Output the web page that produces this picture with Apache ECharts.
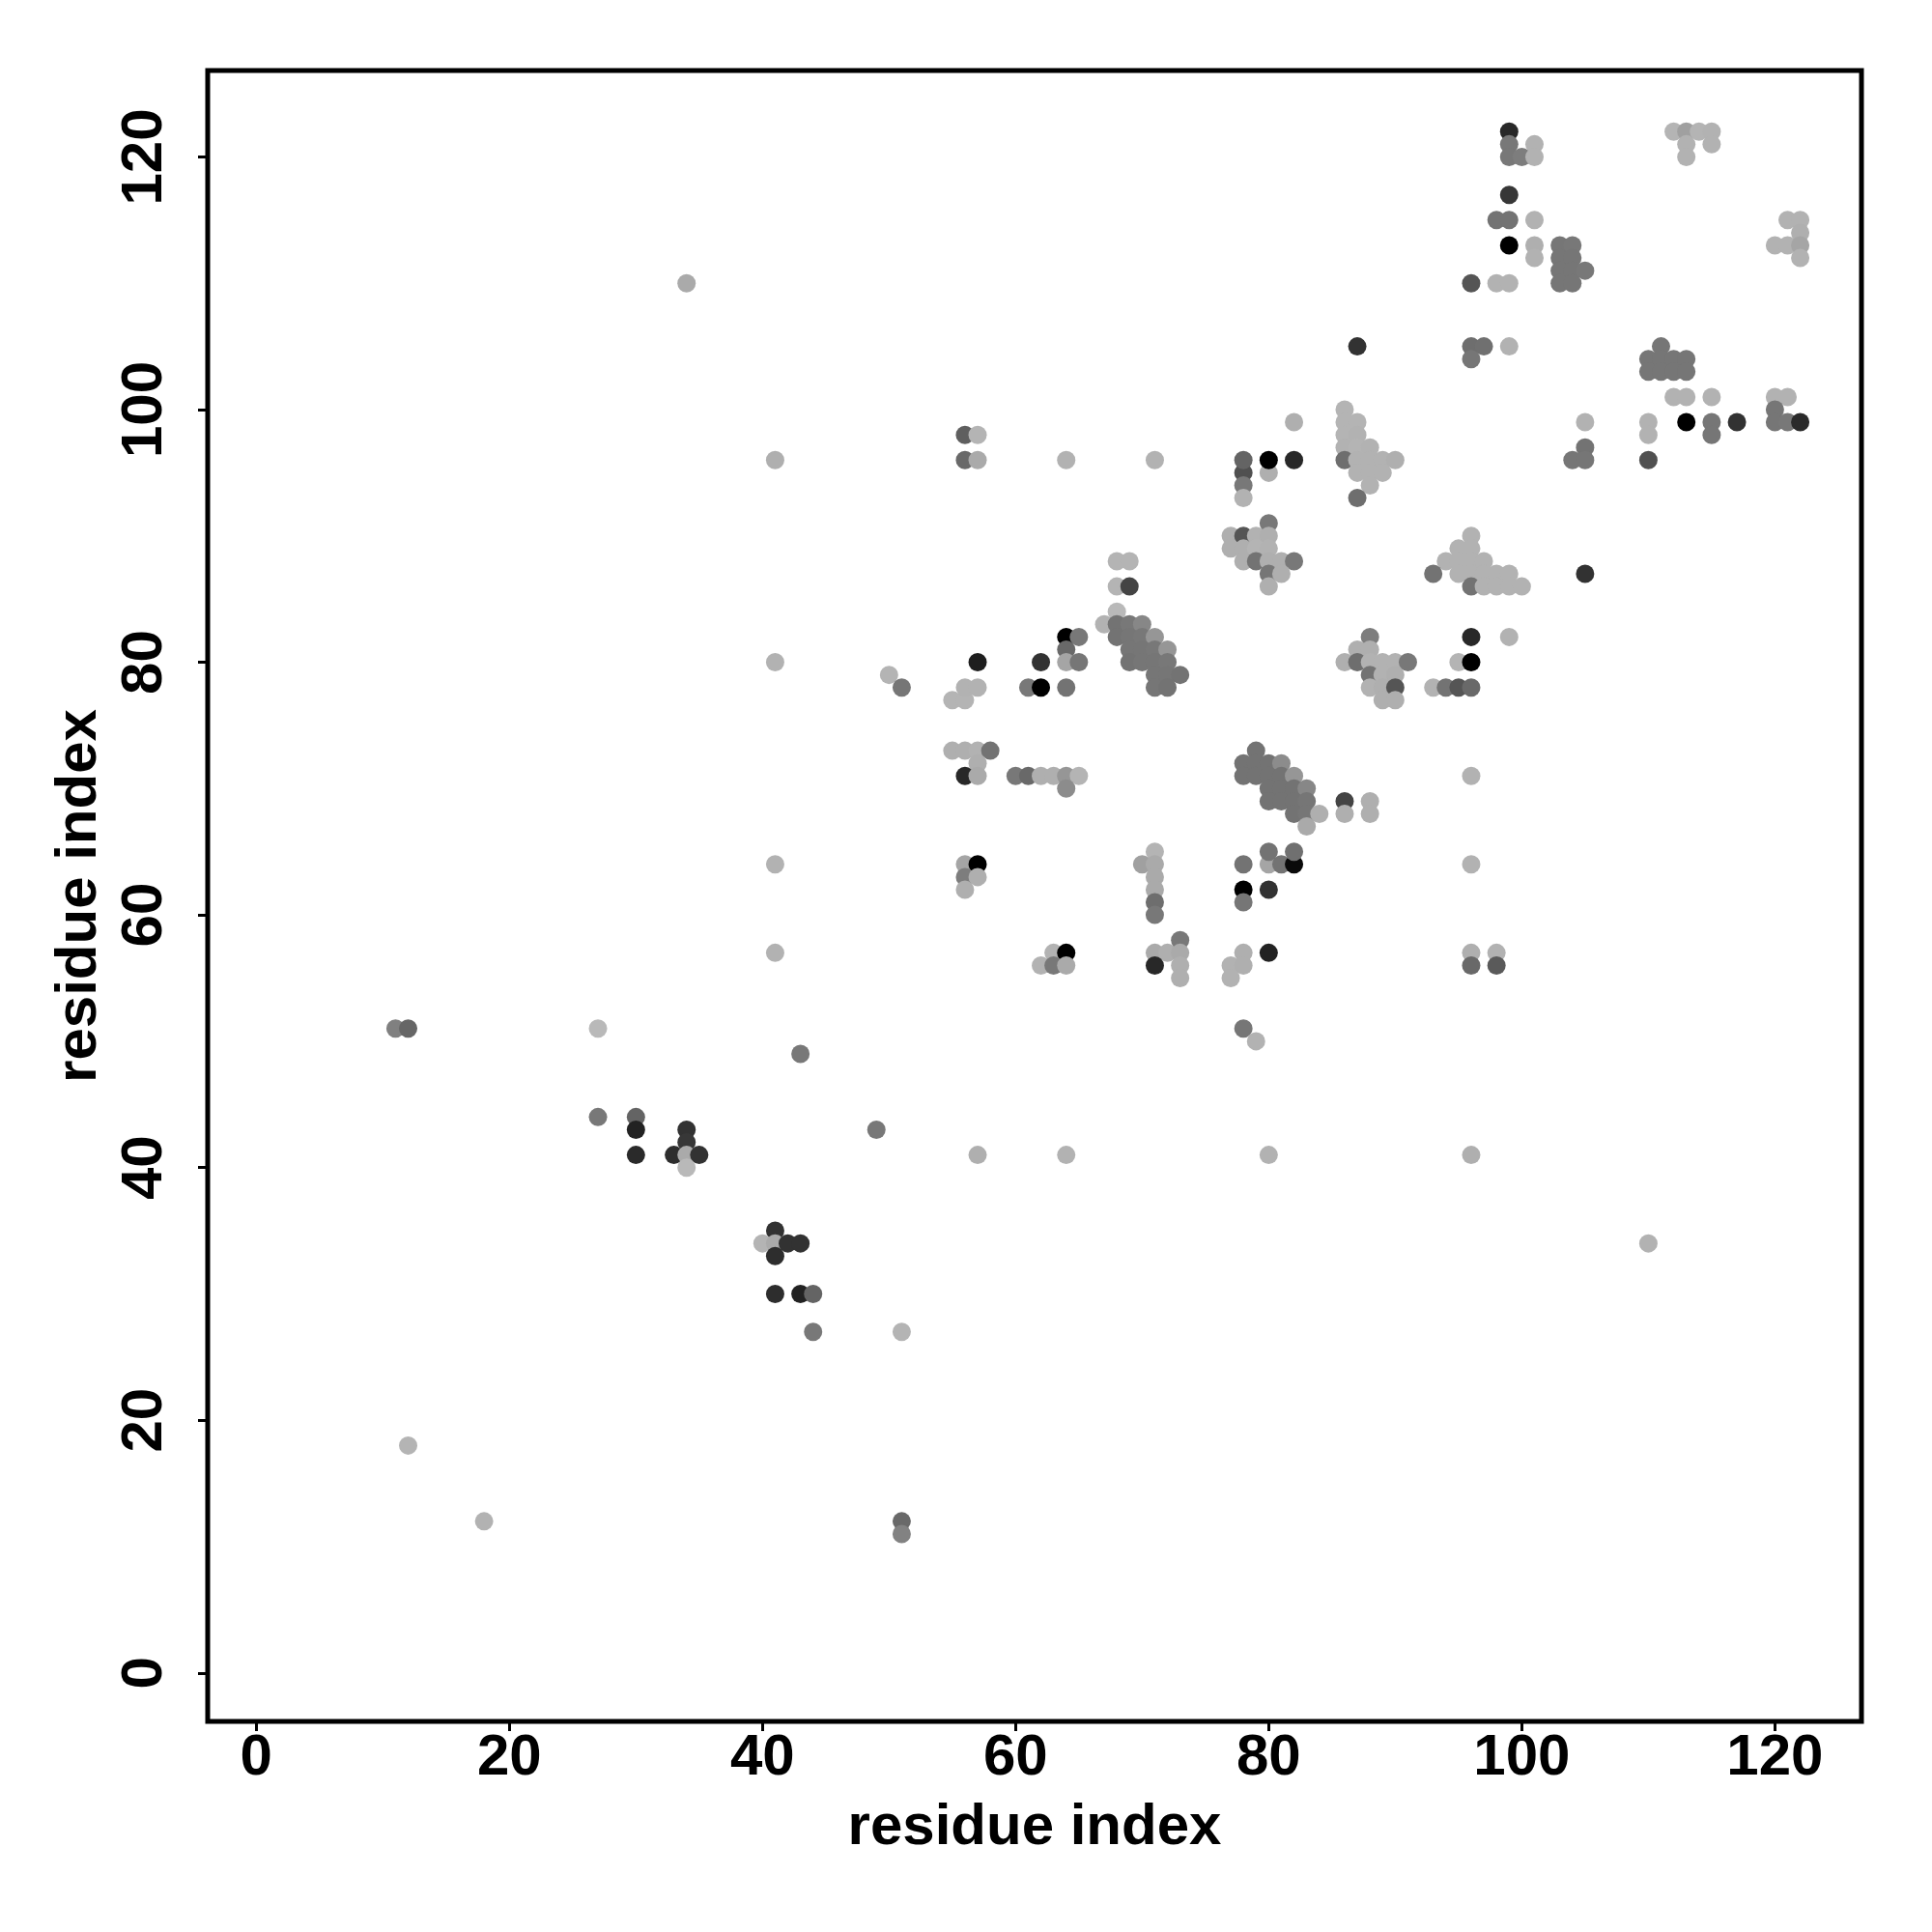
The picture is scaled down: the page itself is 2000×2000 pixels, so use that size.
<!DOCTYPE html>
<html><head><meta charset="utf-8">
<script src="https://cdn.jsdelivr.net/npm/echarts@6/dist/echarts.min.js"></script>
<style>html,body{margin:0;padding:0;background:#fff}#c{width:2000px;height:2000px}</style>
</head><body><div id="c"></div>
<script>
// residue i (x), residue j (y), contact shade (grey level 0=black .. 255=white)
const residueI = [
11,12,12,18,27,27,30,30,30,34,34,33,34,35,34,43,49,41,40,41,42,43,41,41,43,44,44,51,51,51,34,41,41,41,41,50,51,57,64,80,96,110,
56,57,56,57,64,71,68,69,68,69,68,67,68,69,70,68,69,70,71,69,70,71,72,69,70,71,72,71,72,73,71,72,64,65,64,64,65,57,62,61,62,64,55,56,56,57,55,56,57,58,57,56,57,60,61,62,63,64,65,64,56,57,56,57,56,71,70,71,71,71,71,71,63,64,62,63,64,71,72,73,73,71,73,73,
78,77,78,77,80,78,80,81,82,80,82,78,80,78,78,79,79,78,79,80,81,78,79,80,81,82,80,81,82,83,80,81,82,83,82,83,84,83,86,86,88,88,80,77,78,79,80,77,78,79,80,78,79,80,81,82,80,81,80,82,78,80,78,78,78,80,82,86,86,87,86,87,86,87,88,86,87,88,89,90,87,88,89,88,87,87,88,87,88,86,87,88,89,90,91,88,89,90,88,89,90,89,90,
96,95,96,94,95,96,97,93,95,96,97,98,99,96,97,98,99,100,105,96,99,95,96,93,94,95,96,96,96,96,98,96,98,99,99,101,99,100,101,99,98,99,101,99,101,101,103,104,103,104,103,104,105,103,104,96,98,99,112,113,114,115,113,115,113,121,122,122,120,121,122,122,96,97,99,96,111,110,111,112,113,110,111,112,113,112,113,115,120,121,120,113,115,117,115,120,121,122,110,110,110,105,105,104,105
];
const residueJ = [
51,51,18,12,51,44,44,43,41,43,42,41,41,41,40,49,43,35,34,34,34,34,33,30,30,30,27,27,12,11,110,96,80,64,57,79,78,41,41,41,41,34,
98,98,96,96,96,96,88,88,86,86,84,83,83,83,83,82,82,82,82,81,81,81,81,80,80,80,80,79,79,79,78,78,82,82,81,80,80,80,80,78,78,78,77,77,78,78,73,73,73,73,72,71,71,71,71,71,71,71,71,70,64,64,63,63,62,65,64,64,63,62,61,60,57,57,56,56,56,57,57,58,57,56,56,55,
57,56,56,55,57,64,64,64,64,65,65,62,62,61,51,50,73,72,72,72,72,71,71,71,71,71,70,70,70,70,69,69,69,69,68,68,68,67,69,68,69,68,91,90,90,90,90,89,89,89,89,88,88,88,88,88,87,87,86,99,95,95,94,93,96,96,96,100,99,99,98,98,97,97,97,96,96,96,96,96,95,95,95,94,93,105,82,81,81,80,80,80,80,80,80,79,79,79,78,78,78,77,77,
90,89,89,88,88,88,88,87,87,87,87,87,87,86,86,86,86,86,87,82,82,80,80,78,78,78,78,71,64,57,57,56,56,122,121,121,120,120,120,117,115,115,115,113,113,112,113,113,112,112,111,111,111,110,110,110,110,110,122,122,122,122,121,121,120,115,115,114,113,113,113,112,105,105,105,104,105,104,104,104,104,103,103,103,103,101,101,101,101,101,100,99,99,99,98,99,99,99,99,98,96,99,97,96,96
];
const contactShade = [
128,102,180,178,185,120,100,34,42,50,55,45,170,50,185,120,120,50,180,170,50,50,45,45,34,100,120,180,105,130,170,175,178,178,178,180,118,175,178,178,175,178,
95,180,105,170,178,178,180,180,180,68,185,178,115,120,135,115,118,120,150,118,118,120,150,115,118,118,120,118,118,115,118,115,0,120,105,165,118,30,50,120,0,115,180,180,178,178,175,175,178,115,175,40,170,120,105,175,175,150,180,140,165,0,125,175,175,180,160,170,170,170,110,120,178,0,178,120,170,170,175,120,170,40,175,175,
175,178,175,178,34,115,165,115,10,115,112,0,50,118,118,178,115,115,115,115,140,115,115,115,115,150,115,115,115,135,115,115,115,118,115,118,175,170,68,175,175,175,120,175,85,178,175,175,175,180,178,175,115,175,175,120,118,175,175,175,80,175,120,178,100,0,40,180,180,180,180,178,178,180,178,110,178,178,178,175,178,178,178,178,110,50,125,175,175,175,110,178,178,178,120,115,178,175,178,175,85,175,175,
178,178,178,178,178,178,178,115,178,178,178,178,178,115,178,178,178,178,50,40,178,180,0,178,115,85,105,178,178,175,178,105,90,40,120,178,120,125,178,55,115,115,178,0,175,178,118,120,118,118,118,118,120,118,118,85,178,178,180,160,180,178,178,178,178,178,178,175,178,178,165,178,110,112,178,118,118,118,118,118,118,118,118,118,118,178,178,178,178,178,118,0,118,50,118,118,120,42,178,178,80,178,115,118,118
];
const tickValues = [0, 20, 40, 60, 80, 100, 120];
const xTitle = 'residue index';
const yTitle = 'residue index';
const axisMin = -3.84, axisMax = 126.84;

const font = {fontFamily: 'Liberation Sans', fontWeight: 'bold', fontSize: 60, color: '#000'};
const points = residueI.map((x, k) => [x, residueJ[k], contactShade[k]]);

const chart = echarts.init(document.getElementById('c'), null, {renderer: 'canvas'});
chart.setOption({
  animation: false,
  backgroundColor: '#fff',
  grid: {left: 215, top: 73, width: 1712, height: 1709, show: true, borderColor: '#000', borderWidth: 5, backgroundColor: 'transparent'},
  xAxis: {
    type: 'value', min: axisMin, max: axisMax,
    name: xTitle, nameLocation: 'middle', nameGap: 80, nameTextStyle: font,
    axisLine: {show: false, onZero: false},
    splitLine: {show: false},
    axisTick: {show: true, length: 10, customValues: tickValues, lineStyle: {color: '#000', width: 3}},
    axisLabel: Object.assign({margin: 8, customValues: tickValues}, font)
  },
  yAxis: {
    type: 'value', min: axisMin, max: axisMax,
    name: yTitle, nameLocation: 'middle', nameGap: 103, nameTextStyle: font,
    axisLine: {show: false, onZero: false},
    splitLine: {show: false},
    axisTick: {show: true, length: 10, customValues: tickValues, lineStyle: {color: '#000', width: 3}},
    axisLabel: Object.assign({margin: 35, rotate: 90, customValues: tickValues}, font)
  },
  series: [{
    type: 'scatter',
    symbol: 'circle',
    symbolSize: 19,
    data: points,
    itemStyle: {
      opacity: 1,
      color: p => { const g = p.value[2]; return 'rgb(' + g + ',' + g + ',' + g + ')'; }
    }
  }]
});
</script>
</body></html>
